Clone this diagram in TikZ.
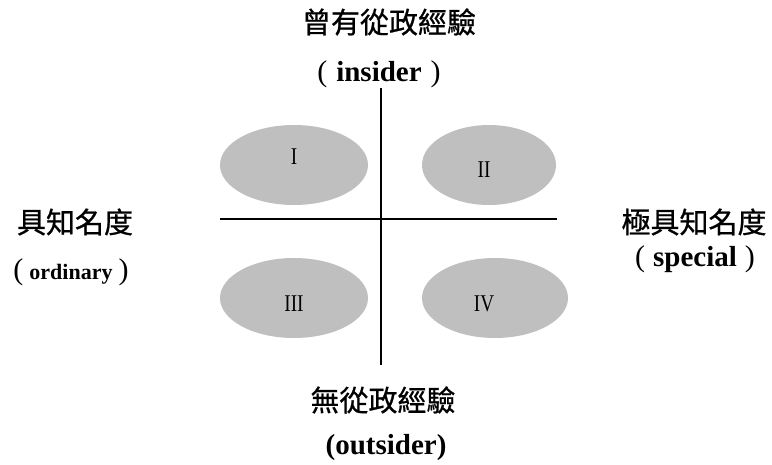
\documentclass[tikz,border=0pt]{standalone}
\usepackage{fontspec}
\setmainfont{Liberation Serif}
\newfontfamily\cjk[FakeBold=0.8]{Noto Sans CJK TC}
\newcommand{\lp}{{\mdseries\fontsize{30}{30}\selectfont (}}
\newcommand{\rp}{{\mdseries\fontsize{30}{30}\selectfont )}}
\begin{document}
\begin{tikzpicture}[x=1pt,y=-1pt,
  axis/.style={line width=1.3pt,black},
  qlabel/.style={font=\fontsize{24}{24}\selectfont,xscale=0.8,transform shape,inner sep=0pt},
  cjklabel/.style={font=\cjk\fontsize{29}{29}\selectfont,inner sep=0pt},
  enlabel/.style={font=\fontsize{29}{29}\selectfont\bfseries,inner sep=0pt}]
\useasboundingbox (0,0) rectangle (772,465);
% ellipses
\fill[black!25] (294,165) ellipse [x radius=74, y radius=40];
\fill[black!25] (489,165) ellipse [x radius=67, y radius=40];
\fill[black!25] (294,298) ellipse [x radius=74, y radius=40];
\fill[black!25] (495,298) ellipse [x radius=73, y radius=40];
\node[qlabel] (q1) at (294,157) {I};
\node[qlabel] (q2) at (484,170) {II};
\node[qlabel] (q3) at (294,304) {III};
\node[qlabel] (q4) at (484,304) {IV};
% axes
\coordinate (vt) at (381,88);
\coordinate (vb) at (381,365);
\coordinate (hl) at (220,219);
\coordinate (hr) at (557,219);
\draw[axis] (vt) -- (vb);
\draw[axis] (hl) -- (hr);
% labels
\node[cjklabel] (top) at (389,22) {曾有從政經驗};
\node[enlabel] (topen) at (379,74) {\lp\hspace{9pt}insider\hspace{9pt}\rp};
\node[cjklabel] (left) at (75,222) {具知名度};
\node[enlabel,font=\fontsize{22}{22}\selectfont\bfseries] (lefte) at (71,272) {\lp\hspace{6pt}ordinary\hspace{6pt}\rp};
\node[cjklabel] (right) at (694,222) {極具知名度};
\node[enlabel] (righte) at (695,259) {\lp\hspace{8pt}special\hspace{8pt}\rp};
\node[cjklabel] (bot) at (383,400) {無從政經驗};
\node[enlabel] (bote) at (386,448) {(outsider)};
\end{tikzpicture}
\end{document}
